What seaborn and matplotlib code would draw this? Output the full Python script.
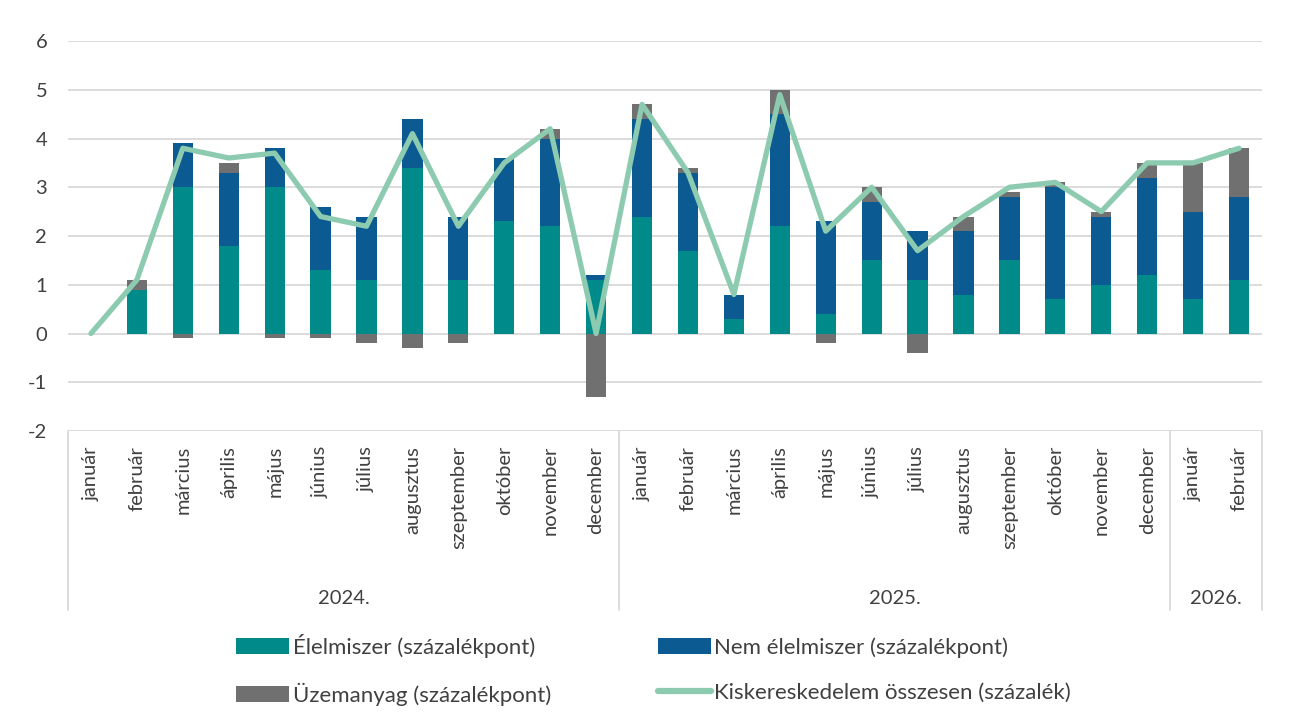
import numpy as np
import pandas as pd
import matplotlib
matplotlib.use("Agg")
import matplotlib.pyplot as plt
import matplotlib.transforms as mtransforms
from matplotlib.patches import Patch
from matplotlib.lines import Line2D
import seaborn as sns

# ---------------- data ----------------
months = ["január", "február", "március", "április", "május", "június", "július",
          "augusztus", "szeptember", "október", "november", "december"]
years = ["2024.", "2025.", "2026."]
year_lengths = [12, 12, 2]
month_labels = months + months + months[:2]

food = [0.0, 0.9, 3.0, 1.8, 3.0, 1.3, 1.1, 3.4, 1.1, 2.3, 2.2, 1.1,
        2.4, 1.7, 0.3, 2.2, 0.4, 1.5, 1.1, 0.8, 1.5, 0.7, 1.0, 1.2,
        0.7, 1.1]
nonfood = [0.0, 0.0, 0.9, 1.5, 0.8, 1.3, 1.3, 1.0, 1.3, 1.3, 1.8, 0.1,
           2.0, 1.6, 0.5, 2.3, 1.9, 1.2, 1.0, 1.3, 1.3, 2.3, 1.4, 2.0,
           1.8, 1.7]
fuel = [0.0, 0.2, -0.1, 0.2, -0.1, -0.1, -0.2, -0.3, -0.2, 0.0, 0.2, -1.3,
        0.3, 0.1, 0.0, 0.5, -0.2, 0.3, -0.4, 0.3, 0.1, 0.1, 0.1, 0.3,
        1.0, 1.0]
total = [0.0, 1.1, 3.8, 3.6, 3.7, 2.4, 2.2, 4.1, 2.2, 3.5, 4.2, 0.0,
         4.7, 3.3, 0.8, 4.9, 2.1, 3.0, 1.7, 2.4, 3.0, 3.1, 2.5, 3.5,
         3.5, 3.8]

series_names = ["Élelmiszer (százalékpont)", "Nem élelmiszer (százalékpont)",
                "Üzemanyag (százalékpont)", "Kiskereskedelem összesen (százalék)"]

C_FOOD = "#008B8A"
C_NONFOOD = "#0B5A91"
C_FUEL = "#707070"
C_LINE = "#8DCBB0"
C_GRID = "#D9D9D9"
C_TEXT = "#404040"

n = len(food)
df = pd.DataFrame({"idx": np.arange(n), "food": food, "nonfood": nonfood,
                   "fuel": fuel, "total": total})
df["l1"] = df["food"]
df["l2"] = df["food"] + df["nonfood"]
df["l3"] = df["l2"] + df["fuel"].clip(lower=0)
df["neg"] = df["fuel"].clip(upper=0)

# ---------------- style ----------------
sns.set_theme(style="white")
plt.rcParams["font.family"] = ["Lato", "DejaVu Sans"]

W, H = 1294, 718
fig = plt.figure(figsize=(W / 100, H / 100), dpi=100)
fig.patch.set_facecolor("white")
left, right, top, bottom = 68, 1262, 41, 431
ax = fig.add_axes([left / W, 1 - bottom / H, (right - left) / W, (bottom - top) / H])

bw = 0.44
common = dict(x="idx", width=bw, saturation=1, errorbar=None, ax=ax, zorder=2,
              edgecolor="none", linewidth=0)
sns.barplot(data=df, y="l3", color=C_FUEL, **common)
sns.barplot(data=df, y="l2", color=C_NONFOOD, **common)
sns.barplot(data=df, y="l1", color=C_FOOD, **common)
sns.barplot(data=df, y="neg", color=C_FUEL, **common)

sns.lineplot(data=df, x="idx", y="total", color=C_LINE, linewidth=3.8, ax=ax,
             zorder=5, solid_joinstyle="round", solid_capstyle="round")

ax.set_xlim(-0.5, n - 0.5)
ax.set_ylim(-2, 6)
ax.set_yticks(range(-2, 7))
ax.set_yticklabels([str(v) for v in range(-2, 7)])
ax.yaxis.grid(True, color=C_GRID, linewidth=1.3)
ax.xaxis.grid(False)
ax.set_axisbelow(True)
for s in ax.spines.values():
    s.set_visible(False)
ax.tick_params(axis="y", length=0, pad=15, labelsize=14.5, labelcolor=C_TEXT)
ax.tick_params(axis="x", length=0, labelbottom=False)
ax.set_xlabel("")
ax.set_ylabel("")

# ---------------- multi-level category axis ----------------
trans = mtransforms.blended_transform_factory(ax.transData, ax.transAxes)
axis_h = bottom - top
box_bottom = -(610 - bottom) / axis_h
for i, m in enumerate(month_labels):
    ax.text(i, -(446 - bottom) / axis_h, m, rotation=90, ha="center", va="top",
            transform=trans, fontsize=14.5, color=C_TEXT)

seps = [-0.5]
start = 0
for y, ln in zip(years, year_lengths):
    ax.text(start + (ln - 1) / 2, -(598 - bottom) / axis_h, y, ha="center",
            va="center", transform=trans, fontsize=14.5, color=C_TEXT)
    start += ln
    seps.append(start - 0.5)
for s in seps:
    ax.plot([s, s], [0, box_bottom], transform=trans, clip_on=False,
            color=C_GRID, linewidth=1.3)

# ---------------- legend ----------------
handles = [Patch(facecolor=C_FOOD, edgecolor="none"),
           Patch(facecolor=C_FUEL, edgecolor="none"),
           Patch(facecolor=C_NONFOOD, edgecolor="none"),
           Line2D([0], [0], color=C_LINE, linewidth=4.5, solid_capstyle="round")]
labels = [series_names[0], series_names[2], series_names[1], series_names[3]]
leg = fig.legend(handles, labels, ncol=2, loc="upper left",
                 bbox_to_anchor=(216 / W, 1 - 614 / H), frameon=False,
                 fontsize=16, handlelength=2.4, handleheight=0.75,
                 handletextpad=0.15, columnspacing=4.8, labelspacing=1.1,
                 labelcolor=C_TEXT)

fig.savefig("out.png", dpi=100, facecolor="white")
